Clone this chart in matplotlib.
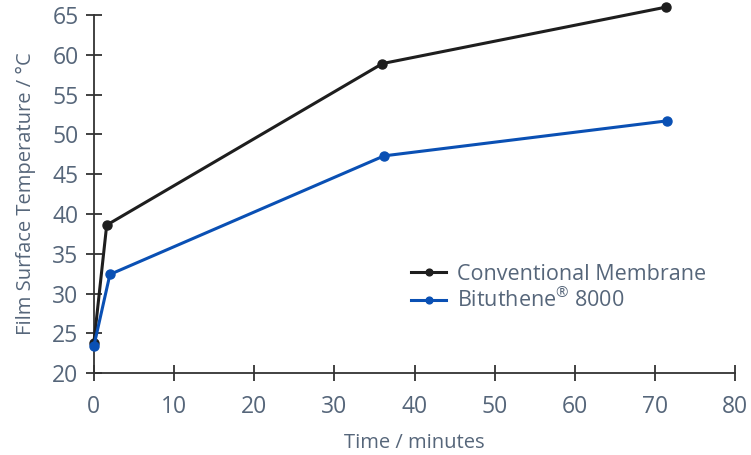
import numpy as np
import matplotlib.pyplot as plt

# Data
time_conv = [0, 1.6, 36, 71.4]
temp_conv = [23.8, 38.6, 58.9, 66.0]
time_bit = [0, 2.0, 36.2, 71.5]
temp_bit = [23.4, 32.4, 47.3, 51.7]

x_ticks = [0, 10, 20, 30, 40, 50, 60, 70, 80]
y_ticks = [20, 25, 30, 35, 40, 45, 50, 55, 60, 65]

txt = '#56667a'
plt.rcParams['font.family'] = ['Open Sans', 'DejaVu Sans']
plt.rcParams['mathtext.fontset'] = 'custom'
plt.rcParams['mathtext.rm'] = 'Open Sans'

fig = plt.figure(figsize=(7.51, 4.55), dpi=100)
ax = fig.add_axes([0.125, 0.180, 0.854, 0.787])

ax.plot(time_conv, temp_conv, '-o', color='#1e1e1e', lw=2.2, ms=6.5,
        label='Conventional Membrane', clip_on=False, zorder=3)
ax.plot(time_bit, temp_bit, '-o', color='#0a50b4', lw=2.2, ms=6.5,
        label='Bituthene$^{\u00ae}$ 8000', clip_on=False, zorder=4)

ax.set_xlim(0, 80)
ax.set_ylim(20, 65)
ax.set_xticks(x_ticks)
ax.set_yticks(y_ticks)

for s in ['top', 'right']:
    ax.spines[s].set_visible(False)
for s in ['left', 'bottom']:
    ax.spines[s].set_color('#333333')
    ax.spines[s].set_linewidth(1.3)

ax.tick_params(direction='inout', length=12, width=1.3, color='#333333',
               labelcolor=txt, labelsize=16.5)
ax.tick_params(axis='x', pad=10)
ax.tick_params(axis='y', pad=5)

ax.set_xlabel('Time / minutes', color=txt, fontsize=14.5, labelpad=10)
ax.set_ylabel('Film Surface Temperature / \u00b0C', color=txt, fontsize=14.5, labelpad=12)

leg = ax.legend(loc='upper left', bbox_to_anchor=(0.465, 0.36), frameon=False,
                fontsize=15.5, handlelength=1.6, handletextpad=0.5,
                labelspacing=0.15, markerscale=0.75)
for t in leg.get_texts():
    t.set_color(txt)

fig.savefig('out.png', dpi=100)
